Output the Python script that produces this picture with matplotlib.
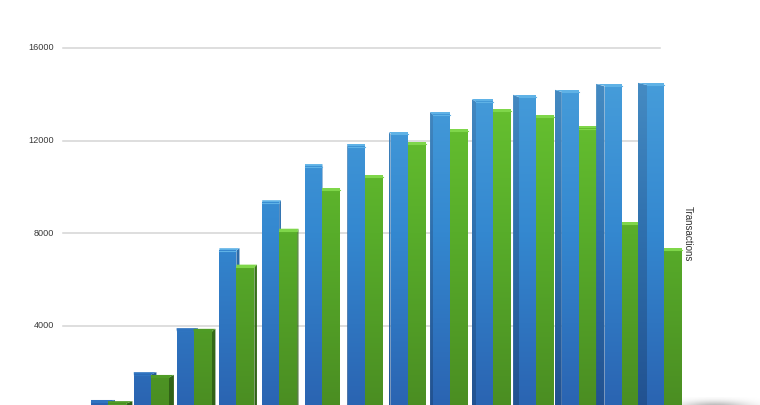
import matplotlib
matplotlib.use("Agg")
import matplotlib.pyplot as plt
import numpy as np
from matplotlib.colors import LinearSegmentedColormap
from matplotlib.patches import Polygon

plt.rcParams['font.family'] = ['Liberation Sans', 'DejaVu Sans']

# values
blue_values = [700, 1900, 3800, 7250, 9320, 10880, 11740, 12270, 13120, 13680, 13870, 14090, 14340, 14390]
green_values = [650, 1780, 3770, 6540, 8090, 9850, 10420, 11850, 12410, 13260, 13010, 12520, 8390, 7270]
tick_values = [4000, 8000, 12000, 16000]
tick_labels = ["4000", "8000", "12000", "16000"]
axis_title = "Transactions"

W, H = 760, 405
px_per_unit = 92.7 / 4000
y_bottom = (418.7 - H) / px_per_unit
y_top = y_bottom + H / px_per_unit

blue_front = LinearSegmentedColormap.from_list("bf", ["#2a62b0", "#3488d0", "#4aa1dc"])
green_front = LinearSegmentedColormap.from_list("gf", ["#4a8c22", "#58ad2a", "#6cc832"])
blue_side = LinearSegmentedColormap.from_list("bs", ["#21508f", "#2f70ae", "#4a92c8"])
green_side = LinearSegmentedColormap.from_list("gs", ["#2f5f16", "#3b7a1c", "#55a528"])

fig = plt.figure(figsize=(W / 100, H / 100), dpi=100)
ax = fig.add_axes([0, 0, 1, 1])
ax.set_xlim(0, W)
ax.set_ylim(y_bottom, y_top)
ax.axis("off")

for v, lab in zip(tick_values, tick_labels):
    ax.plot([63, 660], [v, v], color="#d4d4d4", lw=1.1, zorder=1)
    ax.text(54, v, lab, ha="right", va="center", fontsize=6.6, color="#3a3a3a")

ax.text(688, 8000, axis_title, rotation=270, ha="center", va="center", fontsize=7, color="#333333")

# soft shadow under the last bars
sx, sy = np.meshgrid(np.linspace(-1, 1, 200), np.linspace(-1, 1, 60))
shadow = np.exp(-(sx * 1.7) ** 2 - (sy * 1.7) ** 2)
shadow_rgba = np.zeros(shadow.shape + (4,))
shadow_rgba[..., 3] = shadow * 0.3
ax.imshow(shadow_rgba, extent=[660, 770, y_bottom - 12 / px_per_unit, y_bottom + 8 / px_per_unit],
          aspect="auto", zorder=1.5, interpolation="bilinear")


def gradient(cmap, value):
    vals = np.linspace(value / 16000, 0.03, 128).reshape(-1, 1)
    return cmap(vals)


def draw_bar(left, width, value, front, side, cap, z):
    right = left + width
    cx = left + width / 2
    dx = (330 - cx) * 0.03
    rise = 2.5 / px_per_unit
    # side wall on whichever side faces the viewer
    edge = right if dx > 0 else left
    side_img = ax.imshow(gradient(side, value), extent=[min(edge, edge + dx), max(edge, edge + dx), y_bottom, value + rise],
                         aspect="auto", zorder=z, interpolation="bilinear")
    side_img.set_clip_path(Polygon([[edge, y_bottom], [edge + dx, y_bottom], [edge + dx, value + rise], [edge, value]],
                                   transform=ax.transData))
    back_left = min(left, left + dx)
    back_right = max(right, right + dx)
    ax.add_patch(Polygon([[left, value], [right, value], [back_right, value + rise], [back_left, value + rise]],
                         closed=True, facecolor=cap, edgecolor="none", zorder=z + 0.1))
    ax.imshow(gradient(front, value), extent=[left, right, y_bottom, value],
              aspect="auto", zorder=z + 0.2, interpolation="bilinear")
    ax.plot([left, right], [value, value], color=cap, lw=0.8, zorder=z + 0.3)


x0, pitch = 91, 42.8
for k, (b, g) in enumerate(zip(blue_values, green_values)):
    blue_left = x0 + pitch * k
    # the bar nearer the middle of the view overlaps its neighbour
    blue_z, green_z = (3, 4) if k < 6 else (4, 3)
    draw_bar(blue_left, 17, b, blue_front, blue_side, "#5fb2e6" if k > 2 else "#2f74c0", blue_z + k * 0.01)
    draw_bar(blue_left + 17, 18, g, green_front, green_side, "#7fd64a" if k > 2 else "#4f9c26", green_z + k * 0.01)

ax.set_xlim(0, W)
ax.set_ylim(y_bottom, y_top)
fig.savefig("out.png", dpi=100, facecolor="white")
